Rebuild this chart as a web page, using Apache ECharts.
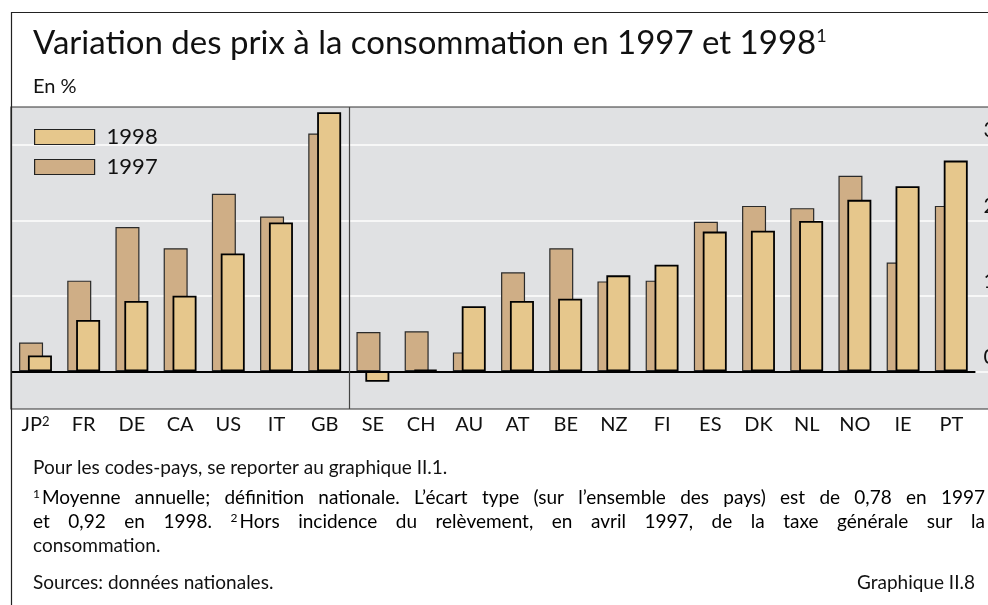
<!DOCTYPE html>
<html><head><meta charset="utf-8">
<script src="https://cdn.jsdelivr.net/npm/echarts@6/dist/echarts.min.js"></script>
<style>html,body{margin:0;padding:0;background:#fff;}#c{width:988px;height:605px;}</style>
</head><body><div id="c"></div>
<script>
// ---- data ----
const categories = ['JP','FR','DE','CA','US','IT','GB','SE','CH','AU','AT','BE','NZ','FI','ES','DK','NL','NO','IE','PT'];
const values1997 = [0.38, 1.20, 1.91, 1.63, 2.35, 2.05, 3.15, 0.52, 0.53, 0.25, 1.31, 1.63, 1.19, 1.20, 1.98, 2.19, 2.16, 2.59, 1.44, 2.19];
const values1998 = [0.21, 0.68, 0.93, 1.00, 1.56, 1.97, 3.43, -0.14, 0.02, 0.86, 0.93, 0.96, 1.27, 1.41, 1.85, 1.86, 1.99, 2.27, 2.45, 2.79];
const seriesNames = ['1997', '1998'];
const yMin = -0.5, yMax = 3.5, yStep = 0.5;
const titleText = 'Variation des prix à la consommation en 1997 et 1998';
const subtitleText = 'En %';
const note0 = 'Pour les codes-pays, se reporter au graphique II.1.';
const note1a = '^1Moyenne annuelle; définition nationale. L’écart type (sur l’ensemble des pays) est de 0,78 en 1997';
const note1b = 'et 0,92 en 1998.  ^2Hors incidence du relèvement, en avril 1997, de la taxe générale sur la';
const note1c = 'consommation.';
const sourceText = 'Sources: données nationales.';
const chartId = 'Graphique II.8';

const FONT = 'Lato';
const INK = '#111';
const chart = echarts.init(document.getElementById('c'));

const option = {
  animation: false,
  backgroundColor: '#fff',
  title: [
    { text: titleText + '{s|1}', left: 33, top: 27, padding: 0,
      textStyle: { fontFamily: FONT, fontSize: 33, fontWeight: 'normal', color: INK,
        rich: { s: { fontFamily: FONT, fontSize: 18, verticalAlign: 'top', color: INK } } } },
    { text: subtitleText, left: 33, top: 77, padding: 0,
      textStyle: { fontFamily: FONT, fontSize: 20, fontWeight: 'normal', color: INK } }
  ],
  legend: {
    data: ['1998', '1997'], orient: 'vertical', left: 34, top: 126, padding: 0,
    icon: 'rect', itemWidth: 60, itemHeight: 15, itemGap: 8,
    itemStyle: { borderColor: '#222', borderWidth: 1.2 },
    textStyle: { fontFamily: FONT, fontSize: 22, color: INK, padding: [0, 0, 0, 7] }
  },
  grid: [
    { left: 11, right: -3, top: 107, bottom: 196, show: true, backgroundColor: '#e0e1e3',
      borderColor: '#333', borderWidth: 1.2, outerBoundsMode: 'none', containLabel: false },
    { left: 11.4, right: 12.6, top: 107, bottom: 196, outerBoundsMode: 'none', containLabel: false }
  ],
  xAxis: [
    { gridIndex: 0, type: 'value', show: false, min: 0, max: 1 },
    { gridIndex: 1, type: 'category', data: categories,
      axisLine: { show: false }, axisTick: { show: false },
      axisLabel: { interval: 0, margin: 6, fontFamily: FONT, fontSize: 20, color: INK,
        formatter: v => v === 'JP' ? '{a|JP}{s|2}' : v,
        rich: { a: { fontFamily: FONT, fontSize: 20, color: INK },
                s: { fontFamily: FONT, fontSize: 13, color: INK, verticalAlign: 'top' } } } }
  ],
  yAxis: [
    { gridIndex: 0, type: 'value', min: yMin, max: yMax, interval: yStep,
      axisLine: { show: false }, axisTick: { show: false }, axisLabel: { show: false },
      splitLine: { show: true, lineStyle: { color: ['rgba(0,0,0,0)', '#f7f7f7'], width: 2 } } },
    { gridIndex: 1, type: 'value', position: 'right', min: yMin, max: yMax, interval: yStep,
      axisLine: { show: false }, axisTick: { show: false }, splitLine: { show: false },
      axisLabel: { margin: 8, fontFamily: FONT, fontSize: 21, color: INK, verticalAlign: 'bottom',
        padding: [0, 0, 4, 0],
        formatter: v => (Math.abs(v - Math.round(v)) < 1e-9 && v >= 0 && v <= 3) ? String(Math.round(v)) : '' } }
  ],
  series: [
    { name: seriesNames[0], type: 'bar', xAxisIndex: 1, yAxisIndex: 1, data: values1997,
      barWidth: 24, barGap: '-63%',
      itemStyle: { color: '#cfae86', borderColor: '#2a2a2a', borderWidth: 1.2 },
      markLine: { silent: true, symbol: 'none', label: { show: false },
        lineStyle: { color: '#000', width: 2, type: 'solid' }, data: [{ yAxis: 0 }] } },
    { name: seriesNames[1], type: 'bar', xAxisIndex: 1, yAxisIndex: 1, data: values1998,
      barWidth: 24,
      itemStyle: { color: '#e6c78c', borderColor: '#000', borderWidth: 1.8 } }
  ]
};
chart.setOption(option);

// ---- decorations computed from the chart ----
const ctx = document.createElement('canvas').getContext('2d');
function tw(text, size) { ctx.font = size + 'px ' + FONT; return ctx.measureText(text).width; }
const NOTE = 19, SUP = 12;
const richNote = { t: { fontFamily: FONT, fontSize: NOTE, color: INK },
                   s: { fontFamily: FONT, fontSize: SUP, color: INK, verticalAlign: 'top', padding: [0, 2, 0, 0] } };
function tokenize(line) {
  return line.split(/\s+/).filter(Boolean).map(wd => {
    const m = wd.match(/^\^(\d)(.*)$/);
    const sup = m ? m[1] : '';
    const t = m ? m[2] : wd;
    return { sup, t, width: (sup ? tw(sup, SUP) + 2 : 0) + tw(t, NOTE) };
  });
}
function textEl(x, y, tok) {
  return { type: 'text', x, y, z: 10,
    style: { text: tok.sup ? '{s|' + tok.sup + '}{t|' + tok.t + '}' : '{t|' + tok.t + '}',
      rich: richNote, verticalAlign: 'middle', align: 'left' } };
}
function justify(line, y, x0, x1) {
  const toks = tokenize(line);
  const total = toks.reduce((a, b) => a + b.width, 0);
  const gap = (x1 - x0 - total) / (toks.length - 1);
  const els = []; let x = x0;
  toks.forEach(tk => { els.push(textEl(x, y, tk)); x += tk.width + gap; });
  return els;
}
function plain(line, y, x, align) {
  return { type: 'text', x, y, z: 10,
    style: { text: line, fontFamily: FONT, fontSize: NOTE, fill: INK, verticalAlign: 'middle', align: align || 'left' } };
}

const xg = chart.convertToPixel({ xAxisIndex: 1 }, 'GB');
const xs = chart.convertToPixel({ xAxisIndex: 1 }, 'SE');
const yTop = chart.convertToPixel({ yAxisIndex: 1 }, yMax);
const yBot = chart.convertToPixel({ yAxisIndex: 1 }, yMin);
const sepX = Math.round((xg + xs) / 2) + 0.5;

const graphics = [
  { type: 'rect', z: 20, shape: { x: 11.5, y: 12.5, width: 1000, height: 700 },
    style: { fill: 'none', stroke: '#222', lineWidth: 1.2 } },
  { type: 'line', z: 20, shape: { x1: sepX, y1: yTop, x2: sepX, y2: yBot },
    style: { stroke: '#444', lineWidth: 1.2 } },
  plain(note0, 468, 33),
  ...justify(note1a, 498, 33, 985),
  ...justify(note1b, 522, 33, 985),
  plain(note1c, 546, 33),
  plain(sourceText, 583, 33),
  plain(chartId, 583, 975, 'right')
];
chart.setOption({ graphic: graphics });
</script></body></html>
